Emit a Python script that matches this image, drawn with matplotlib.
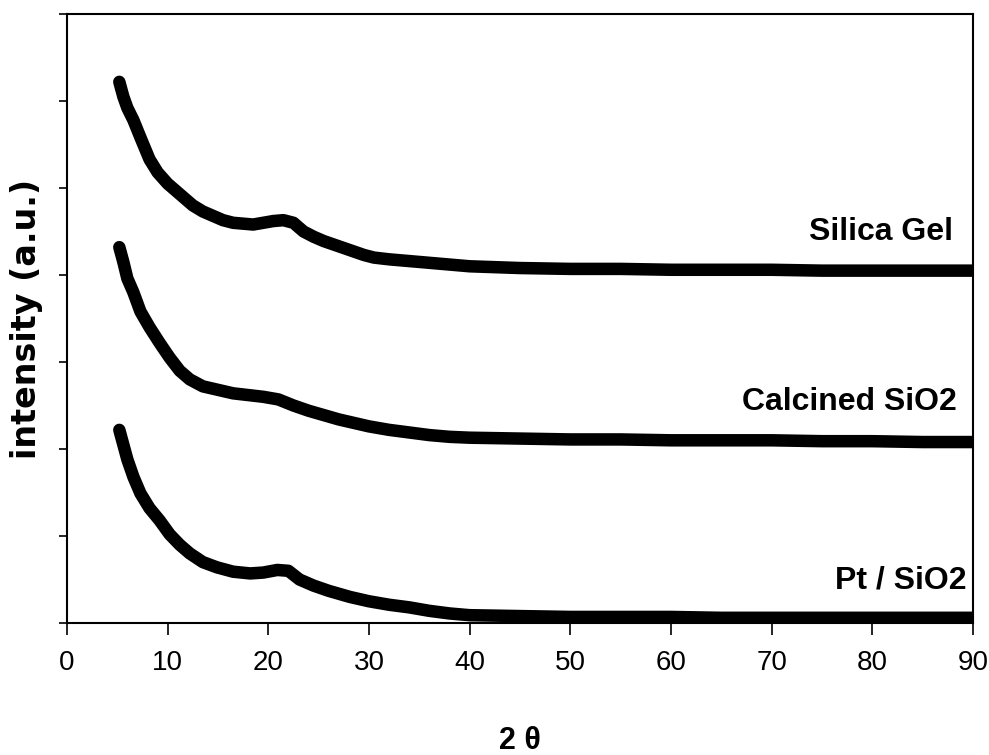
import matplotlib
matplotlib.use("Agg")
import matplotlib.pyplot as plt

NARROW = ["Liberation Sans Narrow", "Liberation Sans", "DejaVu Sans"]

# values (intensity in tick-interval units, offset per sample)
tt_gel = [5.2, 5.6, 6.0, 6.6, 7.3, 8.2, 9.0, 10.0, 10.5, 11.5, 12.5, 13.5, 14.5, 15.5,
          16.5, 17.5, 18.5, 19.5, 20.5, 21.5, 22.5, 23.5, 24.5, 25.5, 26.5, 27.5,
          28.5, 29.5, 30.5, 32, 34, 36, 38, 40, 45, 50, 55, 60, 65, 70, 75, 80, 85, 90]
i_gel = [6.22, 6.05, 5.92, 5.78, 5.58, 5.33, 5.18, 5.05, 5.00, 4.90, 4.80, 4.73, 4.68, 4.63,
         4.60, 4.59, 4.58, 4.60, 4.62, 4.63, 4.60, 4.50, 4.44, 4.39, 4.35, 4.31,
         4.27, 4.23, 4.20, 4.18, 4.16, 4.14, 4.12, 4.10, 4.08, 4.07, 4.07, 4.06, 4.06,
         4.06, 4.05, 4.05, 4.05, 4.05]

tt_cal = [5.2, 5.6, 6.0, 6.6, 7.3, 8.2, 9.2, 10.2, 11.2, 12.2, 13.5, 15.0, 16.5, 18.0,
          19.5, 21.0, 22.5, 24.0, 25.5, 27.0, 28.5, 30.0, 32, 34, 36, 38, 40, 45, 50,
          55, 60, 65, 70, 75, 80, 85, 90]
i_cal = [4.32, 4.15, 3.96, 3.80, 3.58, 3.40, 3.22, 3.05, 2.90, 2.80, 2.72, 2.68, 2.64, 2.62,
         2.60, 2.57, 2.50, 2.44, 2.39, 2.34, 2.30, 2.26, 2.22, 2.19, 2.16, 2.14, 2.13,
         2.12, 2.11, 2.11, 2.10, 2.10, 2.10, 2.09, 2.09, 2.08, 2.08]

tt_pt = [5.2, 5.6, 6.0, 6.6, 7.3, 8.2, 9.2, 10.2, 11.2, 12.2, 13.5, 14.9, 16.5, 18.2,
         19.5, 20.9, 22.0, 23.1, 24.5, 26.0, 28.1, 30.0, 32, 34, 36, 38, 40, 45, 50,
         55, 60, 65, 70, 75, 80, 85, 90]
i_pt = [2.22, 2.05, 1.88, 1.68, 1.49, 1.32, 1.18, 1.02, 0.90, 0.80, 0.70, 0.64, 0.59, 0.57,
        0.58, 0.61, 0.60, 0.50, 0.43, 0.37, 0.30, 0.25, 0.21, 0.18, 0.14, 0.11, 0.09,
        0.08, 0.07, 0.07, 0.07, 0.06, 0.06, 0.06, 0.06, 0.06, 0.06]

labels = ["Silica Gel", "Calcined SiO2", "Pt / SiO2"]
label_x = [88.0, 88.4, 89.4]
label_y = [4.49, 2.54, 0.49]

fig = plt.figure(figsize=(9.89, 7.55), dpi=100)
ax = fig.add_axes([0.0677, 0.1748, 0.9161, 0.8067])

for tt, inten in [(tt_gel, i_gel), (tt_cal, i_cal), (tt_pt, i_pt)]:
    ax.plot(tt, inten, color="black", lw=9, solid_capstyle="round",
            solid_joinstyle="round")

for name, lx, ly in zip(labels, label_x, label_y):
    ax.text(lx, ly, name, ha="right", va="center", fontsize=23,
            fontweight="bold", family=NARROW)

ax.set_xlim(0, 90)
ax.set_ylim(0, 7)
ax.set_xticks(range(0, 91, 10))
ax.set_yticks(range(0, 8))
ax.set_yticklabels([])
ax.tick_params(axis="x", direction="out", length=8.6, width=1.2, pad=11)
ax.tick_params(axis="y", direction="out", length=6, width=1.2)
for lab in ax.get_xticklabels():
    lab.set_fontsize(20)
    lab.set_family(NARROW)

for sp in ax.spines.values():
    sp.set_linewidth(1.5)

ax.set_xlabel("2 θ", fontsize=22, fontweight="bold", family=NARROW, labelpad=36)
ax.set_ylabel("intensity (a.u.)", fontsize=24, fontweight="bold",
              family="DejaVu Sans", labelpad=8)

fig.savefig("out.png", dpi=100)
